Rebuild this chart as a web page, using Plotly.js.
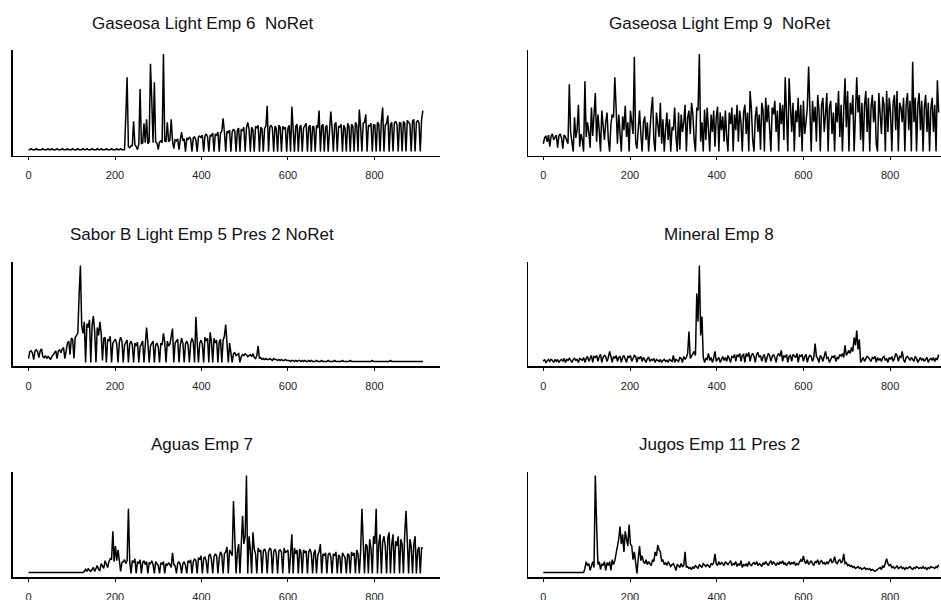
<!DOCTYPE html>
<html>
<head>
<meta charset="utf-8">
<script src="https://cdn.plot.ly/plotly-3.0.1.min.js"></script>
<style>
  html, body { margin: 0; padding: 0; background: #fff; }
  #chart { width: 941px; height: 600px; }
</style>
</head>
<body>
<div id="chart"></div>
<script>
// Daily sales series, one value every 3 days
const dayStep = 3;
const tickDays = [0, 200, 400, 600, 800];

const panelTitles = [
  "Gaseosa Light Emp 6  NoRet",
  "Gaseosa Light Emp 9  NoRet",
  "Sabor B Light Emp 5 Pres 2 NoRet",
  "Mineral Emp 8",
  "Aguas Emp 7",
  "Jugos Emp 11 Pres 2"
];

const gaseosaEmp6 = [
  2,2,3,2,2,2,3,2,2,2,
  2,3,2,2,2,3,2,2,3,2,
  2,2,3,2,2,2,3,2,2,2,
  3,2,2,2,3,2,2,2,3,2,
  2,2,3,2,2,3,2,2,2,3,
  2,2,2,3,2,2,3,2,2,2,
  3,2,2,2,3,2,2,2,3,2,
  2,3,2,2,2,37,76,5,4,6,
  6,31,7,5,2,7,64,8,9,29,
  9,33,8,10,90,53,9,71,10,9,
  2,10,11,9,100,11,10,30,10,12,
  33,11,3,12,11,13,2,12,20,11,
  13,0,14,12,15,13,0,14,15,12,
  0,15,16,14,17,0,16,18,15,0,
  17,16,19,0,18,17,20,0,19,21,
  34,20,0,21,19,22,0,20,23,21,
  0,22,24,0,23,21,25,0,24,30,
  23,0,25,22,0,26,24,27,0,25,
  23,0,24,26,47,0,25,27,24,0,
  26,24,0,27,25,0,26,23,25,0,
  24,27,0,46,25,0,26,28,0,25,
  27,0,24,26,29,0,25,27,0,26,
  25,0,27,24,42,0,26,28,0,25,
  27,0,26,41,24,0,28,30,0,26,
  25,28,0,27,24,0,29,26,0,28,
  26,0,30,27,0,43,25,0,29,30,
  38,0,27,26,29,0,28,27,0,30,
  28,0,31,45,0,27,29,37,0,28,
  30,0,29,31,28,0,30,29,0,31,
  29,0,32,30,28,0,31,33,0,30,
  32,29,0,33,42
];

const gaseosaEmp9 = [
  8,14,16,10,17,5,16,18,12,15,
  17,4,16,18,14,3,17,15,12,8,
  69,20,10,0,35,14,22,48,5,18,
  12,0,72,15,30,20,4,45,16,35,
  60,10,38,22,0,42,25,12,30,40,
  12,0,28,38,35,76,44,8,38,20,
  0,36,22,47,15,30,0,42,28,18,
  97,10,3,30,42,18,0,30,36,12,
  30,0,25,42,56,12,0,40,28,15,
  50,8,33,0,22,40,12,33,0,25,
  22,45,15,0,40,2,38,20,30,48,
  0,35,42,18,50,38,12,0,45,42,
  100,10,30,0,43,12,45,22,0,38,
  20,42,5,35,46,0,40,22,36,10,
  42,15,0,40,28,45,0,38,22,48,
  10,42,30,0,40,48,18,40,0,62,
  44,12,0,35,46,20,38,2,50,42,
  0,55,30,48,15,0,45,38,52,20,
  42,0,50,28,48,12,76,40,0,75,
  45,20,50,0,42,30,55,15,48,0,
  52,18,30,45,87,40,0,52,30,46,
  10,58,42,0,48,55,20,38,60,0,
  45,52,18,40,0,50,30,62,15,48,
  0,42,75,25,62,0,50,38,58,0,
  45,76,40,58,12,50,0,48,62,20,
  55,0,45,58,30,52,8,0,60,42,
  18,56,48,0,62,20,55,40,0,50,
  58,22,62,0,50,45,30,55,0,48,
  60,22,52,0,92,30,55,0,48,60,
  22,52,0,45,58,20,50,0,44,55,
  20,48,0,73,40
];

const saborBEmp5 = [
  4,11,12,10,3,12,13,11,5,12,
  14,6,5,7,4,6,5,3,6,8,
  11,12,4,12,13,10,14,15,4,13,
  20,22,8,25,24,4,26,28,30,70,
  100,38,30,42,0,40,36,44,0,38,
  48,32,0,36,28,42,30,2,25,26,
  0,24,22,27,0,20,22,24,19,0,
  21,26,22,0,18,20,23,0,19,22,
  18,0,20,17,21,0,16,19,22,0,
  18,36,20,0,17,19,22,0,18,20,
  16,0,20,18,30,21,0,22,17,19,
  28,35,0,20,22,24,0,18,25,20,
  0,19,22,18,0,20,25,21,0,47,
  22,0,20,23,19,0,26,22,25,0,
  31,22,0,25,20,23,0,21,24,0,
  23,27,39,18,0,20,8,0,9,10,
  7,8,9,0,6,8,7,9,8,6,
  7,8,6,9,5,4,7,17,4,5,
  3,4,3,4,3,3,4,3,2,4,
  3,3,2,3,2,3,2,2,3,2,
  2,2,1,2,2,1,2,1,2,2,
  1,2,1,2,1,1,2,1,2,1,
  1,1,2,1,1,1,2,1,1,1,
  1,2,1,1,1,1,2,1,1,1,
  1,1,2,1,1,1,1,1,2,1,
  1,1,1,1,1,1,1,1,1,1,
  1,1,1,1,1,2,1,1,1,1,
  1,1,1,1,1,1,1,1,1,2,
  1,1,1,1,1,1,1,1,1,1,
  1,1,1,1,1,1,1,1,1,1,
  1,1,1,1,1
];

const mineralEmp8 = [
  4,6,3,5,6,4,6,5,3,6,
  4,6,3,5,6,4,7,3,6,5,
  7,5,3,6,7,5,6,3,7,6,
  5,8,3,7,9,4,8,10,3,9,
  8,10,4,9,11,3,8,10,9,4,
  8,14,9,3,9,7,10,4,8,9,
  3,8,10,7,3,9,8,10,4,7,
  10,9,3,8,7,9,4,8,6,3,
  7,8,4,6,5,7,3,6,5,4,
  6,3,5,6,4,5,3,6,5,4,
  10,3,6,5,4,8,7,3,9,6,
  8,12,34,7,9,12,14,10,72,44,
  100,30,49,8,3,7,6,12,5,8,
  3,7,14,4,6,8,3,7,9,5,
  8,4,10,7,3,9,8,11,4,10,
  9,12,4,10,11,3,12,9,13,4,
  10,12,9,3,11,13,8,10,4,9,
  11,3,8,12,10,4,9,11,8,3,
  10,12,9,15,4,10,8,11,3,9,
  10,4,11,9,8,12,3,10,9,11,
  4,9,11,3,8,10,9,4,8,22,
  9,7,3,10,8,4,9,14,7,8,
  3,6,9,8,10,4,8,7,11,9,
  12,8,20,10,13,15,12,18,14,28,
  20,35,16,26,3,6,8,4,7,9,
  8,6,4,8,7,9,3,8,5,7,
  4,8,9,5,7,3,8,6,9,4,
  7,12,10,4,9,8,14,6,3,8,
  9,7,5,8,6,4,9,7,3,6,
  8,5,7,4,6,8,3,6,7,5,
  8,4,7,6,11
];

const aguasEmp7 = [
  1,1,1,1,1,1,1,1,1,1,
  1,1,1,1,1,1,1,1,1,1,
  1,1,1,1,1,1,1,1,1,1,
  1,1,1,1,1,1,1,1,1,1,
  1,1,1,2,4,2,5,3,2,4,
  6,2,5,8,4,3,10,7,5,13,
  9,6,12,15,14,43,12,28,13,24,
  13,2,11,12,14,10,13,66,12,0,
  13,11,15,0,12,10,14,0,11,13,
  9,12,0,11,10,13,9,0,12,10,
  8,0,11,9,12,0,10,8,11,9,
  6,21,9,8,0,10,12,9,0,10,
  12,8,0,13,11,14,0,12,15,13,
  0,16,14,18,0,15,17,12,0,18,
  20,14,0,17,20,18,0,16,22,19,
  0,20,22,27,0,24,20,18,74,25,
  0,22,30,0,25,59,30,38,100,0,
  38,24,0,42,25,20,0,26,22,24,
  0,23,25,21,0,22,26,24,0,22,
  25,20,0,23,24,22,0,26,21,23,
  24,0,22,40,0,26,20,24,0,25,
  22,0,24,21,23,0,22,25,20,0,
  21,24,0,19,22,30,0,20,18,21,
  0,19,21,17,0,20,18,22,0,19,
  17,0,21,18,16,0,20,19,0,22,
  18,21,0,24,20,0,22,66,25,0,
  30,28,0,35,25,0,38,30,66,0,
  30,40,0,32,38,28,0,36,42,0,
  30,40,0,33,28,38,0,35,30,0,
  40,64,33,0,35,28,0,30,38,0,
  24,27,0,26,26
];

const jugosEmp11 = [
  1,1,1,1,1,1,1,1,1,1,
  1,1,1,1,1,1,1,1,1,1,
  1,1,1,1,1,1,1,1,1,1,
  1,1,5,12,8,10,3,9,12,6,
  100,50,9,12,4,10,8,12,3,11,
  8,12,3,14,9,13,20,26,35,48,
  30,40,22,43,35,28,50,30,28,14,
  22,12,0,15,28,13,18,12,10,14,
  9,12,10,8,14,12,22,18,29,24,
  22,12,14,9,11,8,12,10,7,9,
  10,7,3,9,8,6,10,7,8,22,
  6,7,5,6,4,7,5,8,6,5,
  9,7,6,10,8,7,9,8,6,10,
  9,11,20,10,8,12,9,11,10,8,
  12,10,9,11,13,8,10,9,12,7,
  10,8,13,6,9,8,10,7,12,9,
  8,10,11,9,12,8,10,9,7,11,
  9,12,10,8,11,13,9,12,10,8,
  11,9,12,10,13,9,11,8,10,12,
  9,11,10,12,8,10,9,11,14,12,
  18,12,10,14,9,11,13,10,8,12,
  11,14,9,12,13,10,11,9,12,10,
  13,15,11,12,17,11,10,13,14,11,
  12,20,10,11,8,9,7,8,6,7,
  5,6,7,5,6,4,5,6,4,5,
  4,5,3,4,3,2,3,4,5,6,
  4,8,6,10,15,10,8,9,6,7,
  5,6,8,5,6,7,5,6,4,6,
  5,6,7,5,4,6,5,7,6,5,
  6,5,7,5,6,4,6,5,7,6,
  6,5,7,6,9
];

const panelSeries = [gaseosaEmp6, gaseosaEmp9, saborBEmp5, mineralEmp8, aguasEmp7, jugosEmp11];

// Page geometry (pixels)
const W = 941, H = 600;
const cols = [
  { px: [12.7, 440], range: [-36.6, 951.6], titleX: 202 },
  { px: [528.3, 941], range: [-34.6, 917.4], titleX: 719 }
];
const rows = [[50, 155.5], [261.7, 366.3], [471.7, 577.3]];
const titleGap = 27;

const fontFamily = '"Liberation Sans", Arial, Helvetica, sans-serif';
const traces = [];
const layout = {
  width: W, height: H,
  margin: { l: 0, r: 0, t: 0, b: 0 },
  paper_bgcolor: '#fff', plot_bgcolor: '#fff',
  showlegend: false,
  font: { family: fontFamily, color: '#000' },
  annotations: []
};

panelSeries.forEach((vals, k) => {
  const col = cols[k % 2];
  const row = rows[Math.floor(k / 2)];
  const n = k + 1;
  const sfx = n === 1 ? '' : String(n);
  const days = vals.map((_, i) => i * dayStep);

  traces.push({
    x: days, y: vals,
    xaxis: 'x' + sfx, yaxis: 'y' + sfx,
    type: 'scatter', mode: 'lines',
    line: { color: '#000', width: 1.5 },
    hoverinfo: 'skip'
  });

  const lo = Math.min(...vals), hi = Math.max(...vals);
  const pad = 0.04 * (hi - lo);

  layout['xaxis' + sfx] = {
    domain: [col.px[0] / W, col.px[1] / W],
    range: col.range,
    anchor: 'y' + sfx,
    showline: true, linecolor: '#000', linewidth: 1.5,
    showgrid: false, zeroline: false,
    tickmode: 'array', tickvals: tickDays,
    ticktext: tickDays.map(String),
    ticks: 'outside', ticklen: 3, tickwidth: 1, tickcolor: '#000',
    tickfont: { family: fontFamily, size: 11, color: '#222' },
    ticklabelstandoff: 6,
    fixedrange: true
  };
  layout['yaxis' + sfx] = {
    domain: [1 - row[1] / H, 1 - row[0] / H],
    range: [lo - pad, hi + pad],
    anchor: 'x' + sfx,
    showline: true, linecolor: '#000', linewidth: 1.5,
    showgrid: false, zeroline: false,
    showticklabels: false, ticks: '',
    fixedrange: true
  };

  layout.annotations.push({
    text: panelTitles[k],
    xref: 'paper', yref: 'paper',
    x: col.titleX / W, y: 1 - (row[0] - titleGap) / H,
    xanchor: 'center', yanchor: 'middle',
    showarrow: false,
    font: { family: fontFamily, size: 17, color: '#111' }
  });
});

Plotly.newPlot('chart', traces, layout, { displayModeBar: false, staticPlot: true });
</script>
</body>
</html>
